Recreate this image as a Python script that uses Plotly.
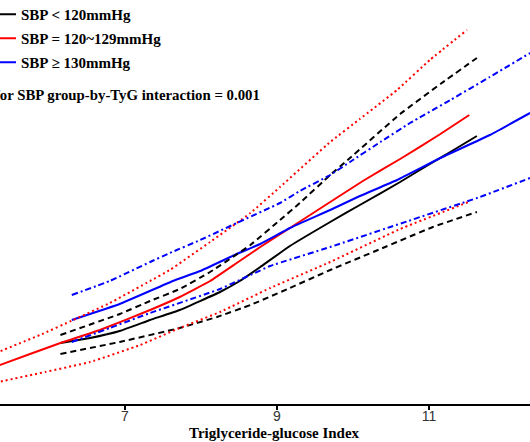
import plotly.graph_objects as go

# ---- data (TyG index vs. effect estimate) ----
blk_x = [6.15, 6.54, 6.93, 7.33, 7.72, 8.25, 8.51, 8.78, 9.17, 9.70, 10.09, 10.62, 10.88, 11.28, 11.63]
blk_y = [1.22, 1.32, 1.46, 1.68, 1.88, 2.24, 2.46, 2.74, 3.16, 3.64, 3.98, 4.44, 4.68, 5.04, 5.36]
blk_up_x = [6.15, 6.93, 7.33, 7.72, 8.12, 8.65, 9.04, 9.30, 9.70, 9.96, 10.62, 11.15, 11.63]
blk_up_y = [1.38, 1.80, 2.06, 2.30, 2.64, 3.18, 3.68, 4.02, 4.58, 4.92, 5.80, 6.40, 6.92]
blk_lo_x = [6.15, 6.93, 7.72, 8.21, 8.65, 9.17, 9.70, 10.36, 11.05, 11.63]
blk_lo_y = [1.00, 1.24, 1.52, 1.74, 1.98, 2.32, 2.68, 3.10, 3.54, 3.84]

red_x = [5.30, 5.75, 6.15, 6.67, 7.33, 7.72, 8.12, 8.47, 8.78, 9.17, 9.70, 10.13, 10.62, 11.15, 11.53]
red_y = [0.75, 1.00, 1.22, 1.48, 1.88, 2.14, 2.46, 2.82, 3.14, 3.52, 4.04, 4.46, 4.90, 5.40, 5.78]
red_up_x = [5.30, 5.88, 6.32, 6.80, 7.33, 7.59, 8.12, 8.65, 9.04, 9.70, 10.09, 10.58, 11.01, 11.50]
red_up_y = [1.02, 1.38, 1.68, 2.02, 2.46, 2.68, 3.24, 3.82, 4.34, 5.24, 5.70, 6.28, 6.88, 7.48]
red_lo_x = [5.30, 5.95, 6.54, 7.20, 7.72, 8.25, 8.91, 9.70, 10.62, 11.52]
red_lo_y = [0.43, 0.64, 0.84, 1.18, 1.52, 1.84, 2.32, 2.84, 3.50, 4.04]

blu_x = [6.30, 6.93, 7.63, 7.99, 8.47, 8.78, 9.17, 9.70, 10.09, 10.58, 11.15, 11.80, 12.33]
blu_y = [1.68, 2.00, 2.46, 2.66, 3.00, 3.20, 3.52, 3.88, 4.16, 4.48, 4.92, 5.38, 5.82]
blu_up_x = [6.30, 6.80, 7.33, 7.59, 7.99, 8.47, 9.04, 9.30, 9.70, 9.96, 10.36, 10.75, 11.28, 11.80, 12.33]
blu_up_y = [2.18, 2.46, 2.84, 3.02, 3.28, 3.62, 4.02, 4.26, 4.58, 4.84, 5.24, 5.62, 6.08, 6.54, 7.02]
blu_lo_x = [6.30, 6.80, 7.33, 8.25, 8.91, 9.70, 10.49, 11.67, 12.33]
blu_lo_y = [1.24, 1.52, 1.82, 2.30, 2.76, 3.14, 3.54, 4.14, 4.52]

names = ["SBP < 120mmHg", "SBP = 120~129mmHg", "SBP \u2265 130mmHg"]
tick_vals = [7, 9, 11]
tick_text = ["7", "9", "11"]
x_title = "Triglyceride-glucose Index"
p_text = "P for SBP group-by-TyG interaction = 0.001"

SERIF = "Liberation Serif, Times New Roman, serif"

fig = go.Figure()

def add(x, y, color, dash, name=None, group=None):
    fig.add_trace(go.Scatter(
        x=x, y=y, mode="lines",
        line=dict(color=color, width=2, dash=dash, shape="spline", smoothing=0.3),
        name=name, showlegend=name is not None, legendgroup=group,
        hoverinfo="skip"))

# main curves (with legend)
add(blk_x, blk_y, "#000000", "solid", names[0], "g1")
add(red_x, red_y, "#ff0000", "solid", names[1], "g2")
add(blu_x, blu_y, "#0000ff", "solid", names[2], "g3")
# confidence bands
add(blk_up_x, blk_up_y, "#000000", "6px,4px", group="g1")
add(blk_lo_x, blk_lo_y, "#000000", "6px,4px", group="g1")
add(red_up_x, red_up_y, "#ff0000", "2px,3px", group="g2")
add(red_lo_x, red_lo_y, "#ff0000", "2px,3px", group="g2")
add(blu_up_x, blu_up_y, "#0000ff", "6px,3px,2px,3px", group="g3")
add(blu_lo_x, blu_lo_y, "#0000ff", "6px,3px,2px,3px", group="g3")

W, H = 530, 442
fig.update_layout(
    width=W, height=H,
    margin=dict(l=0, r=0, t=0, b=38, pad=0, autoexpand=False),
    paper_bgcolor="white", plot_bgcolor="white",
    showlegend=True,
    legend=dict(
        x=-19 / W, xanchor="left", y=1.0 + 2 / 404, yanchor="top",
        bgcolor="rgba(0,0,0,0)", borderwidth=0,
        font=dict(family=SERIF, size=15, color="#000000", weight="bold"),
        tracegroupgap=1.5, itemwidth=30,
    ),
    xaxis=dict(
        range=[5.3553, 12.329], tickmode="array", tickvals=tick_vals, ticktext=tick_text,
        showline=True, linecolor="#000000", linewidth=2, mirror=False,
        ticks="outside", ticklen=4, tickwidth=1.5, tickcolor="#000000",
        showgrid=False, zeroline=False, automargin=False, ticklabelstandoff=-6,
        tickfont=dict(family="Liberation Sans, Arial, sans-serif", size=14, color="#333333"),
    ),
    yaxis=dict(range=[0, 8.08], visible=False, showgrid=False, zeroline=False),
    annotations=[
        dict(text=p_text, xref="paper", yref="paper", x=262 / W, y=(404 - 95) / 404,
             xanchor="right", yanchor="middle", showarrow=False,
             font=dict(family=SERIF, size=14.8, color="#000000", weight="bold")),
        dict(text=x_title, xref="paper", yref="paper", x=274 / W, y=(404 - 433) / 404,
             xanchor="center", yanchor="middle", showarrow=False,
             font=dict(family=SERIF, size=15, color="#000000", weight="bold")),
    ],
)

fig.write_html("out.html", config={"displayModeBar": False},
               post_script="document.body.style.margin='0';")
